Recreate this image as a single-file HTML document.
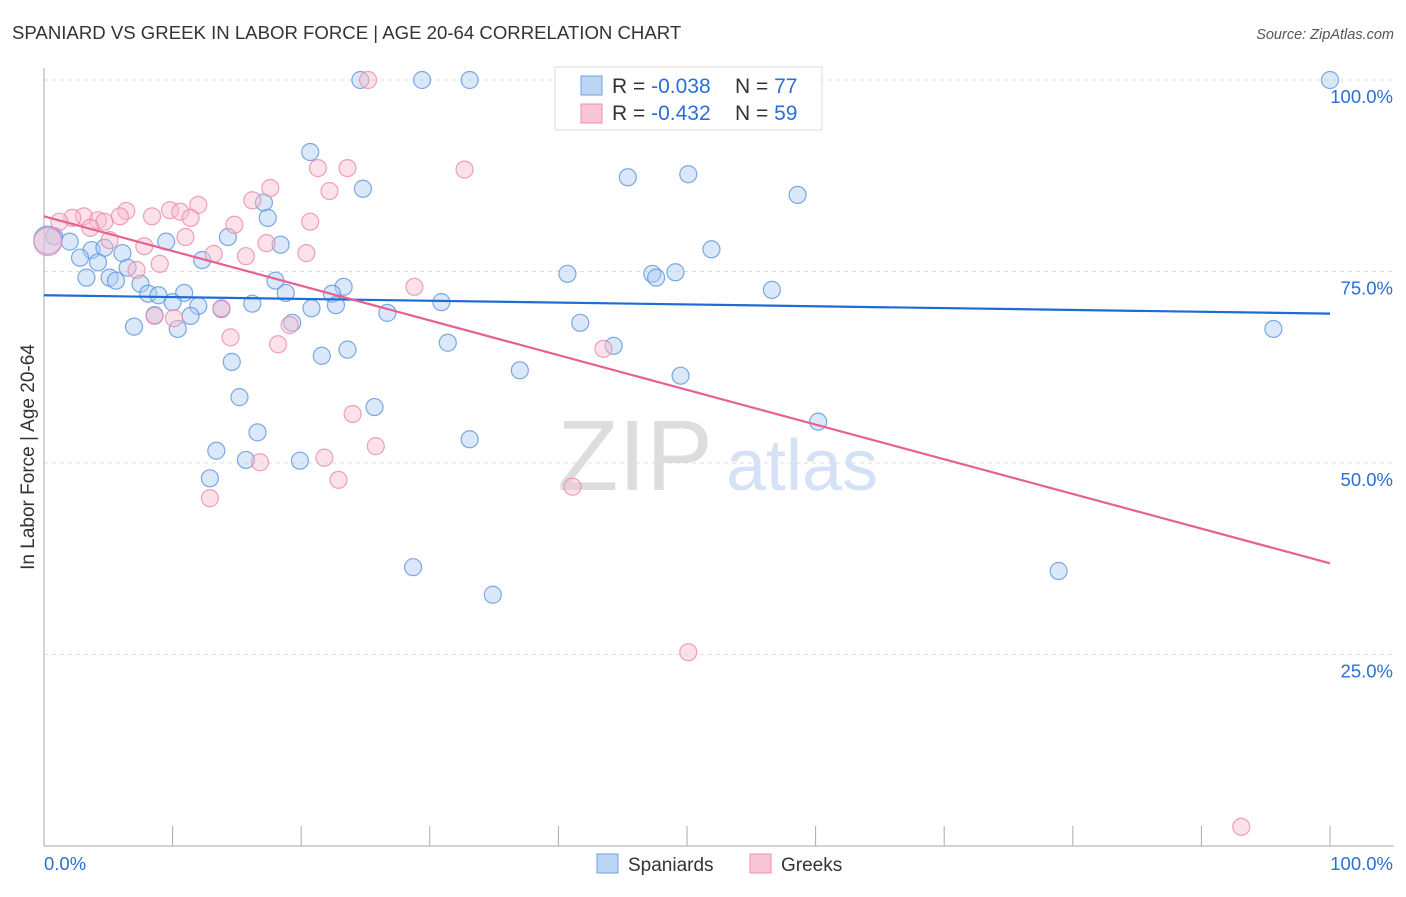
<!DOCTYPE html>
<html><head><meta charset="utf-8"><style>
body{margin:0;background:#fff;font-family:"Liberation Sans",sans-serif}
svg text{font-family:"Liberation Sans",sans-serif}
</style></head><body>
<svg width="1406" height="892" viewBox="0 0 1406 892">
<text x="12" y="39" font-size="18.6" fill="#333">SPANIARD VS GREEK IN LABOR FORCE | AGE 20-64 CORRELATION CHART</text>
<text x="1394" y="39" font-size="14.5" fill="#555" text-anchor="end" font-style="italic">Source: ZipAtlas.com</text>
<g>
<text x="635" y="490" font-size="100" fill="#ddd" font-family="Liberation Serif" text-anchor="middle">ZIP</text>
<text x="802" y="490" font-size="72" fill="#d5e2f5" text-anchor="middle">atlas</text>
</g>
<g id="grid"></g>
<g id="axes"></g>
<g id="pts"></g>
<g id="trend"></g>
<text x="34" y="457" font-size="19" fill="#333" text-anchor="middle" transform="rotate(-90 34 457)">In Labor Force | Age 20-64</text>
<g>
<rect x="555" y="67" width="267" height="63" fill="#fff" stroke="#ddd"/>
<rect x="581" y="76" width="21" height="19" fill="#bcd5f5" stroke="#6fa0e0"/>
<rect x="581" y="104" width="21" height="19" fill="#f9c6d6" stroke="#ee8fb0"/>
<text x="612" y="93" font-size="21" fill="#333">R = <tspan fill="#2a6fd6">-0.038</tspan></text>
<text x="735" y="93" font-size="21" fill="#333">N = <tspan fill="#2a6fd6">77</tspan></text>
<text x="612" y="120" font-size="21" fill="#333">R = <tspan fill="#2a6fd6">-0.432</tspan></text>
<text x="735" y="120" font-size="21" fill="#333">N = <tspan fill="#2a6fd6">59</tspan></text>
</g>
<g>
<rect x="597" y="854" width="21" height="19" fill="#bcd5f5" stroke="#6fa0e0"/>
<text x="628" y="871" font-size="19" fill="#333">Spaniards</text>
<rect x="750" y="854" width="21" height="19" fill="#f9c6d6" stroke="#ee8fb0"/>
<text x="781" y="871" font-size="19" fill="#333">Greeks</text>
</g>
</svg>
<script>
const blueX=[24.6,29.4,33.1,100,20.7,24.8,45.4,50.1,58.6,17.1,17.4,0.8,2.0,9.5,14.3,18.4,51.9,3.7,4.7,6.1,2.8,4.2,12.3,6.5,40.7,47.3,49.1,47.6,3.3,5.1,5.6,18.0,7.5,23.3,8.1,8.9,10.9,18.8,22.4,56.6,10.0,12.0,16.2,20.8,22.7,30.9,8.6,11.4,13.8,26.7,7.0,10.4,19.3,41.7,95.6,31.4,44.3,21.6,23.6,14.6,37.0,49.5,15.2,25.7,60.2,16.6,13.4,33.1,15.7,19.9,12.9,28.7,78.9,34.9,0.3];
const blueY=[100,100,100,100,90.6,85.8,87.3,87.7,85.0,84.0,82.0,79.6,78.9,78.9,79.5,78.5,77.9,77.8,78.1,77.4,76.8,76.2,76.5,75.5,74.7,74.7,74.9,74.2,74.2,74.2,73.8,73.8,73.4,73.0,72.1,71.9,72.2,72.2,72.1,72.6,71.0,70.5,70.8,70.2,70.6,71.0,69.3,69.2,70.1,69.6,67.8,67.5,68.3,68.3,67.5,65.7,65.3,64.0,64.8,63.2,62.1,61.4,58.6,57.3,55.4,54.0,51.6,53.1,50.4,50.3,48.0,36.4,35.9,32.8,79.1];
const pinkX=[25.2,51.8,56.3,32.7,23.6,21.3,17.6,22.2,16.2,12.0,6.4,9.8,10.6,11.4,8.4,5.9,3.1,4.2,2.2,1.2,14.8,20.7,4.7,3.6,11.0,17.3,7.8,13.2,20.4,15.7,5.1,9.0,7.2,28.8,19.1,13.8,8.6,10.1,14.5,18.2,43.5,24.0,25.8,16.8,21.8,22.9,12.9,41.1,50.1,93.1,0.3,42.5];
const pinkY=[100,100,100,88.3,88.5,88.5,85.9,85.5,84.3,83.7,82.9,83.0,82.8,82.0,82.2,82.2,82.2,81.7,82.0,81.5,81.1,81.5,81.5,80.7,79.5,78.7,78.3,77.3,77.4,77.0,79.1,76.0,75.2,73.0,68.0,70.2,69.2,68.9,66.4,65.5,64.9,56.4,52.2,50.1,50.7,47.8,45.4,46.9,25.3,2.5,78.9,95.4];
const blueTrend=[71.9,69.5];
const pinkTrend=[82.2,36.9];
const yTicks=[25,50,75,100];
const yTickLabels=["25.0%","50.0%","75.0%","100.0%"];
const xTicks=[0,10,20,30,40,50,60,70,80,90,100];
const NS="http://www.w3.org/2000/svg";
const sx=v=>44+v*12.86, sy=v=>846-v*7.66;
function mk(t,a,p){const e=document.createElementNS(NS,t);for(const k in a)e.setAttribute(k,a[k]);p.appendChild(e);return e;}
const grid=document.getElementById('grid'),axes=document.getElementById('axes'),pts=document.getElementById('pts'),tr=document.getElementById('trend');
yTicks.forEach((t,i)=>{
 const l=mk('line',{x1:44,x2:1394,y1:sy(t),y2:sy(t),stroke:'#ddd','stroke-dasharray':'4,4'},grid);
 
 
 const tx=mk('text',{x:1393,y:sy(t)+23,'font-size':18.5,fill:'#2a6fd6','text-anchor':'end'},axes);
 tx.textContent=yTickLabels[i];
 
 
});
let a=mk('line',{x1:44,x2:44,y1:68,y2:846,stroke:'#aaa'},axes);


a=mk('line',{x1:44,x2:1394,y1:846,y2:846,stroke:'#aaa'},axes);


xTicks.forEach(t=>{
 const l=mk('line',{x1:sx(t),x2:sx(t),y1:826,y2:846,stroke:'#aaa'},axes);
 
 
});
let t0=mk('text',{x:44,y:870,'font-size':18.5,fill:'#2a6fd6'},axes);t0.textContent='0.0%';


t0=mk('text',{x:1393,y:870,'font-size':18.5,fill:'#2a6fd6','text-anchor':'end'},axes);t0.textContent='100.0%';


function drawPts(X,Y,fill,stroke,name){
 X.forEach((x,i)=>{
  const big=x<0.5;
  const c=mk('circle',{cx:sx(x),cy:sy(Y[i]),r:big?14:8.5,fill:fill,'fill-opacity':0.45,stroke:stroke,'stroke-opacity':0.8,'stroke-width':1.2},pts);
  
  
 });
}
drawPts(blueX,blueY,'#aecbf2','#5b95e0','spaniard-point');
drawPts(pinkX,pinkY,'#f7bccf','#ec8aaa','greek-point');
let l=mk('line',{x1:sx(0),x2:sx(100),y1:sy(blueTrend[0]),y2:sy(blueTrend[1]),stroke:'#1f6bd6','stroke-width':2.2},tr);


l=mk('line',{x1:sx(0),x2:sx(100),y1:sy(pinkTrend[0]),y2:sy(pinkTrend[1]),stroke:'#e5628f','stroke-width':2.2},tr);


</script>
</body></html>
